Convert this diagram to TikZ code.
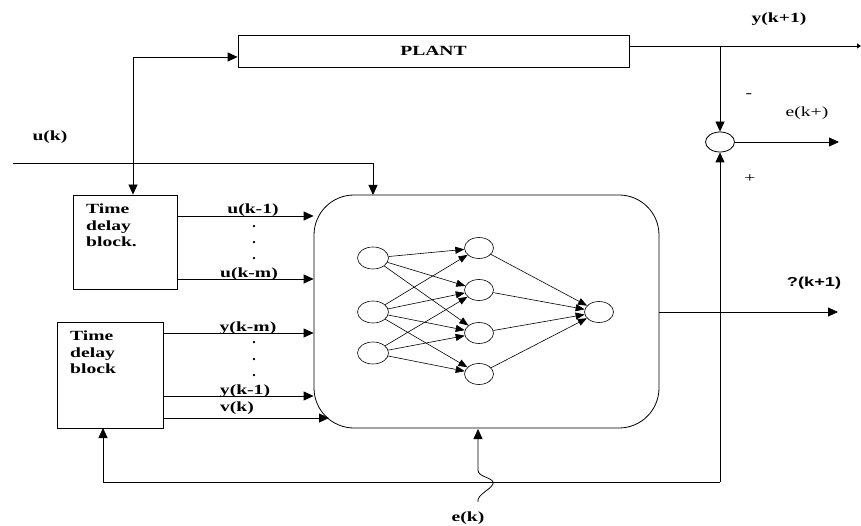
\documentclass[tikz,border=0pt]{standalone}
\usepackage{fontspec}
\usepackage{graphicx}
\setmainfont{Liberation Serif}
\newfontfamily\labsans{Liberation Sans}
\usetikzlibrary{arrows.meta,shapes.geometric}

\tikzset{
  wire/.style={line width=0.8pt},
  arr/.style={wire,-{Triangle[length=10pt,width=9pt]}},
  lab/.style={inner sep=0pt,font=\bfseries\fontsize{14}{16.5}\selectfont},
  labr/.style={inner sep=0pt,font=\fontsize{14}{16.5}\selectfont},
  blk/.style={draw,wire,inner sep=0pt},
  neuron/.style={draw,ellipse,line width=0.6pt,minimum width=29pt,minimum height=21pt,inner sep=0pt},
  syn/.style={line width=0.6pt,-{Triangle[length=9pt,width=7pt]}},
}
\newcommand{\wide}[1]{\scalebox{1.4}[1]{#1}}

\begin{document}
\begin{tikzpicture}[x=1pt,y=-1pt]
  \useasboundingbox (0,0) rectangle (861,526);

  % blocks
  \node[blk,minimum width=391pt,minimum height=32pt,font=\bfseries\fontsize{14}{16}\selectfont] (plant) at (433.5,51) {\wide{PLANT}};
  \node[blk,minimum width=104pt,minimum height=94pt] (td1) at (125,242) {};
  \node[blk,minimum width=106pt,minimum height=106pt] (td2) at (110,375) {};
  \node[blk,rounded corners=40pt,minimum width=345pt,minimum height=233pt] (nn) at (486.5,311.5) {};
  \node[draw,ellipse,wire,minimum width=29pt,minimum height=20pt,inner sep=0pt] (sum) at (720,142) {};

  \node[lab,align=left,anchor=north west] (td1txt) at (86,204) {\wide{Time}\\\wide{delay}\\\wide{block.}};
  \node[lab,align=left,anchor=north west] (td2txt) at (70,331) {\wide{Time}\\\wide{delay}\\\wide{block}};

  % points on the wires
  \coordinate (uin) at (13,163);
  \coordinate (nnin) at (373,195);
  \coordinate (tap) at (133,57);
  \coordinate (br) at (720,46);
  \coordinate (yout) at (861,46);
  \coordinate (eout) at (839,142);
  \coordinate (yhat) at (838,312);
  \coordinate (fb) at (720,482);
  \coordinate (tdfb) at (103,428);
  \coordinate (vin) at (329,418);
  \coordinate (ek) at (478,502);

  % input and plant
  \draw[arr] (uin) -| (nnin);
  \draw[arr] (tap) -- (tap -| plant.west);
  \draw[arr] (tap) -- (tap |- td1.north);
  \draw[wire,-{Triangle[length=4pt,width=5pt]}] (plant.east |- br) -- (yout);
  \draw[arr] (br) -- (sum.north);
  \draw[arr] (sum.east) -- (eout);

  % delayed signals
  \draw[arr] (td1.east |- 0,216) -- (nn.west |- 0,216);
  \draw[arr] (td1.east |- 0,279) -- (nn.west |- 0,279);
  \draw[arr] (td2.east |- 0,333) -- (nn.west |- 0,333);
  \draw[arr] (td2.east |- 0,396) -- (nn.west |- 0,396);
  \draw[arr] (td2.east |- vin) -- (vin);

  % output and feedback
  \draw[arr] (nn.east |- yhat) -- (yhat);
  \draw[arr] (fb) -- (sum.south);
  \draw[arr] (fb) -| (tdfb);
  \draw[arr] (ek) .. controls (476,494) and (495,488) .. (493,482)
    .. controls (491,477) and (478,477) .. (478,470) -- (478,429);

  % network
  \node[neuron,minimum width=31pt,minimum height=22pt] (i1) at (373,258) {};
  \node[neuron,minimum width=31pt,minimum height=22pt] (i2) at (373,312) {};
  \node[neuron,minimum width=31pt,minimum height=22pt] (i3) at (373,353) {};
  \node[neuron] (h1) at (479,248) {};
  \node[neuron] (h2) at (479,290) {};
  \node[neuron] (h3) at (479,333) {};
  \node[neuron] (h4) at (479,374) {};
  \node[neuron] (o1) at (599,312) {};
  \foreach \a/\b in {i1/h1,i1/h2,i1/h3,i2/h1,i2/h2,i2/h3,i2/h4,i3/h2,i3/h3,i3/h4,h1/o1,h2/o1,h3/o1,h4/o1}
    \draw[syn] (\a) -- (\b);

  % labels
  \node[lab] (luk) at (50,137) {\wide{u(k)}};
  \node[lab] (lyk1) at (779,19) {\wide{y(k+1)}};
  \node[labr] (lminus) at (749,96) {\wide{-}};
  \node[labr] (lek1) at (807,113) {\wide{e(k+)}};
  \node[labr] (lplus) at (750,179) {\wide{+}};
  \node[lab] (lu1) at (253,210) {\wide{u(k-1)}};
  \node[lab] (lum) at (249,274) {\wide{u(k-m)}};
  \node[lab] (lym) at (248,328) {\wide{y(k-m)}};
  \node[lab] (ly1) at (245,391) {\wide{y(k-1)}};
  \node[lab] (lvk) at (237,408) {\wide{v(k)}};
  \foreach \yy [count=\i] in {227,243,259} \node[lab] (du\i) at (254,\yy) {.};
  \foreach \yy [count=\i] in {343,360,376} \node[lab] (dy\i) at (254,\yy) {.};
  \node[inner sep=0pt,font=\labsans\bfseries\fontsize{13}{15}\selectfont] (lyhat) at (814,283) {\wide{?(k+1)}};
  \node[lab] (lek) at (468,518) {\wide{e(k)}};
\end{tikzpicture}
\end{document}
